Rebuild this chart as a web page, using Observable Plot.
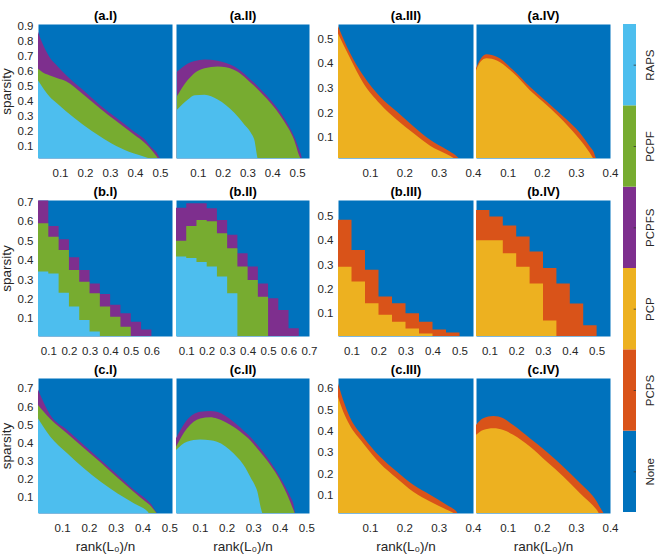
<!DOCTYPE html>
<html><head><meta charset="utf-8">
<script src="https://cdn.jsdelivr.net/npm/d3@7"></script>
<script src="https://cdn.jsdelivr.net/npm/@observablehq/plot@0.6"></script>
<style>
body{margin:0;background:#fff;}
#fig{position:relative;width:662px;height:558px;overflow:hidden;font-family:"Liberation Sans",Arial,Helvetica,sans-serif;}
#fig svg{position:absolute;}
</style></head><body><div id="fig"></div>
<script>
// ---------- colours / categories ----------
const legendCats = ["None","PCPS","PCP","PCPFS","PCPF","RAPS"]; // bottom -> top
const legendColors = ["#0072BD","#D95319","#EDB120","#7E2F8E","#77AC30","#4DBEEE"];
const C = Object.fromEntries(legendCats.map((c,i)=>[c,legendColors[i]]));

// ---------- row a ----------
const aI_x      = [0.01,0.03,0.057,0.09,0.124,0.191,0.258,0.325,0.393,0.446,0.46,0.487,0.5,0.55];
const aI_PCPFS  = [0.868,0.78,0.693,0.63,0.572,0.473,0.374,0.287,0.199,0.13,0.1,0.055,0.02,0];
const aI_PCPF   = [0.616,0.59,0.57,0.55,0.53,0.445,0.352,0.265,0.18,0.11,0.085,0.03,0,0];
const aI_RAPS   = [0.539,0.49,0.43,0.38,0.331,0.243,0.166,0.1,0.052,0.024,0.015,0,0,0];

const aII_x     = [0.0157,0.06,0.087,0.127,0.18,0.247,0.287,0.313,0.327,0.345,0.38,0.447,0.487,0.513,0.525,0.55];
const aII_PCPFS = [0.593,0.648,0.665,0.675,0.666,0.627,0.58,0.539,0.52,0.49,0.43,0.287,0.166,0.056,0,0];
const aII_PCPF  = [0.43,0.539,0.585,0.616,0.627,0.605,0.56,0.52,0.5,0.47,0.41,0.265,0.144,0.02,0,0];
const aII_RAPS  = [0.34,0.408,0.436,0.44,0.408,0.32,0.243,0.19,0.144,0,0,0,0,0,0,0];

const aIII_x    = [0.007,0.042,0.08,0.129,0.178,0.227,0.275,0.324,0.35,0.363,0.4];
const aIII_PCPS = [0.55,0.44,0.35,0.264,0.203,0.143,0.089,0.048,0.025,0.01,0];
const aIII_PCP  = [0.52,0.42,0.32,0.235,0.17,0.115,0.065,0.03,0.01,0,0];

const aIV_x     = [0.007,0.02,0.038,0.068,0.116,0.165,0.214,0.263,0.312,0.341,0.35,0.361,0.38,0.4];
const aIV_PCPS  = [0.379,0.415,0.435,0.425,0.372,0.304,0.244,0.183,0.116,0.062,0.045,0.01,0,0];
const aIV_PCP   = [0.37,0.405,0.419,0.41,0.36,0.29,0.23,0.165,0.089,0.035,0.015,0,0,0];

// ---------- row b (coarse grid: column left edges) ----------
const bI_x      = [0.05,0.1,0.15,0.2,0.25,0.3,0.35,0.4,0.45,0.5,0.55,0.6,0.65,0.7];
const bI_PCPFS  = [0.707,0.576,0.507,0.414,0.348,0.279,0.224,0.168,0.124,0.081,0.041,0,0,0];
const bI_PCPF   = [0.59,0.52,0.452,0.348,0.288,0.228,0.159,0.107,0.055,0,0,0,0,0];
const bI_RAPS   = [0.34,0.33,0.23,0.16,0.09,0.03,0,0,0,0,0,0,0,0];

const bII_x     = [0.05,0.1,0.15,0.2,0.25,0.3,0.35,0.4,0.45,0.5,0.55,0.6,0.65,0.7];
const bII_PCPFS = [0.67,0.693,0.693,0.667,0.607,0.53,0.435,0.366,0.279,0.202,0.141,0.047,0,0];
const bII_PCPF  = [0.5,0.576,0.606,0.6,0.538,0.461,0.366,0.297,0.21,0,0,0,0,0];
const bII_RAPS  = [0.418,0.41,0.39,0.366,0.314,0.228,0,0,0,0,0,0,0,0];

const bIII_x    = [0.05,0.1,0.15,0.2,0.25,0.3,0.35,0.4,0.45,0.5,0.55];
const bIII_PCPS = [0.484,0.36,0.278,0.168,0.141,0.1,0.065,0.033,0.02,0,0];
const bIII_PCP  = [0.291,0.23,0.141,0.093,0.065,0.037,0.016,0,0,0,0];

const bIV_x     = [0.05,0.1,0.15,0.2,0.25,0.3,0.35,0.4,0.45,0.5,0.55];
const bIV_PCPS  = [0.524,0.497,0.46,0.415,0.353,0.285,0.222,0.14,0.05,0,0];
const bIV_PCP   = [0.4,0.4,0.346,0.291,0.222,0.07,0,0,0,0,0];

// ---------- row c ----------
const cI_x      = [0.01,0.056,0.119,0.181,0.244,0.307,0.369,0.418,0.43,0.463,0.51];
const cI_PCPFS  = [0.694,0.552,0.469,0.386,0.303,0.22,0.137,0.08,0.063,0,0];
const cI_PCPF   = [0.607,0.53,0.45,0.37,0.29,0.205,0.125,0.065,0.05,0,0];
const cI_RAPS   = [0.533,0.432,0.34,0.257,0.183,0.118,0.063,0.02,0,0,0];

const cII_x     = [0.01,0.051,0.101,0.139,0.164,0.226,0.276,0.289,0.314,0.339,0.351,0.414,0.44,0.451,0.46,0.51];
const cII_PCPFS = [0.423,0.524,0.57,0.575,0.57,0.515,0.45,0.432,0.39,0.345,0.321,0.174,0.1,0.063,0,0];
const cII_PCPF  = [0.376,0.478,0.533,0.54,0.533,0.487,0.43,0.413,0.37,0.325,0.303,0.155,0.07,0.03,0,0];
const cII_RAPS  = [0.358,0.404,0.417,0.412,0.404,0.34,0.247,0.21,0.137,0,0,0,0,0,0,0];

const cIII_x    = [0.007,0.022,0.041,0.08,0.129,0.178,0.226,0.275,0.324,0.35,0.363,0.4];
const cIII_PCPS = [0.622,0.544,0.466,0.372,0.279,0.209,0.147,0.1,0.053,0.025,0,0];
const cIII_PCP  = [0.559,0.49,0.427,0.342,0.248,0.178,0.115,0.069,0.03,0.01,0,0];

const cIV_x     = [0.007,0.028,0.058,0.087,0.116,0.165,0.214,0.263,0.312,0.361,0.375,0.39,0.4];
const cIV_PCPS  = [0.427,0.458,0.469,0.458,0.427,0.365,0.302,0.232,0.155,0.069,0.03,0,0];
const cIV_PCP   = [0.381,0.404,0.412,0.404,0.381,0.326,0.256,0.186,0.108,0.03,0,0,0];

// ---------- ticks ----------
const ticks_a12_x = [0.1,0.2,0.3,0.4,0.5];
const ticks_a34_x = [0.1,0.2,0.3,0.4];
const ticks_b1_x  = [0.1,0.2,0.3,0.4,0.5,0.6];
const ticks_b2_x  = [0.1,0.2,0.3,0.4,0.5,0.6,0.7];
const ticks_b34_x = [0.1,0.2,0.3,0.4,0.5];
const ticks_c12_x = [0.1,0.2,0.3,0.4,0.5];
const ticks_c34_x = [0.1,0.2,0.3,0.4];
const ticks_a1_y = [0.1,0.2,0.3,0.4,0.5,0.6,0.7,0.8,0.9];
const ticks_a3_y = [0.1,0.2,0.3,0.4,0.5];
const ticks_b1_y = [0.1,0.2,0.3,0.4,0.5,0.6,0.7];
const ticks_b3_y = [0.1,0.2,0.3,0.4,0.5];
const ticks_c1_y = [0.1,0.2,0.3,0.4,0.5,0.6,0.7];
const ticks_c3_y = [0.1,0.2,0.3,0.4,0.5,0.6];

// ---------- layout ----------
const colL = [38,176,338,476], colW = [134,133,135,134];
const rowT = [24,200,378], rowH = [134,136,135];
const fig = document.getElementById("fig");
const FONT = "'Liberation Sans', Arial, sans-serif";

function layer(xs, ys, cat, curve){
  const data = xs.map((x,i)=>({x, y: ys[i]}));
  return Plot.area(data, {x1:"x", y1:0, y2:"y", fill: C[cat], curve, clip:true});
}

function panel(o){
  const ml=40, mr=6, mt=24, mb=44;
  const W = colW[o.col], H = rowH[o.row];
  const marks = [Plot.frame({fill: C.None, stroke: "none"})];
  o.layers.forEach(([xs,ys,cat])=>marks.push(layer(xs,ys,cat,o.step?"step-after":"monotone-x")));
  marks.push(Plot.text([o.title], {text:d=>d, frameAnchor:"top", dy:-9, lineAnchor:"middle", fontSize:13, fontWeight:"bold", fill:"#000"}));
  if (o.ylabel) marks.push(Plot.text(["sparsity"], {text:d=>d, frameAnchor:"left", dx:-32, rotate:-90, lineAnchor:"middle", textAnchor:"middle", fontSize:13.5, fill:"#262626"}));
  if (o.xlabel) marks.push(Plot.text(["rank(L₀)/n"], {text:d=>d, frameAnchor:"bottom", dy:33, lineAnchor:"middle", fontSize:13.5, fill:"#262626"}));
  const svg = Plot.plot({
    width: W+ml+mr, height: H+mt+mb,
    marginLeft: ml, marginRight: mr, marginTop: mt, marginBottom: mb,
    style: {background:"transparent", overflow:"visible", fontSize:"11.5px", color:"#262626", fontFamily:FONT},
    x: {domain: o.xd, ticks: o.xt, tickSize:0, tickPadding:10, tickFormat:".1f", label:null},
    y: {domain: o.yd, ticks: o.yt || [], tickSize:0, tickPadding:5, tickFormat:".1f", label:null, axis: o.yt ? "left" : null},
    marks
  });
  svg.style.left = (colL[o.col]-ml)+"px";
  svg.style.top = (rowT[o.row]-mt)+"px";
  fig.appendChild(svg);
}

// row a
panel({row:0,col:0,title:"(a.I)",  xd:[0.012,0.548], yd:[0.02,0.91], xt:ticks_a12_x, yt:ticks_a1_y, ylabel:true,
  layers:[[aI_x,aI_PCPFS,"PCPFS"],[aI_x,aI_PCPF,"PCPF"],[aI_x,aI_RAPS,"RAPS"]]});
panel({row:0,col:1,title:"(a.II)", xd:[0.012,0.548], yd:[0.02,0.91], xt:ticks_a12_x,
  layers:[[aII_x,aII_PCPFS,"PCPFS"],[aII_x,aII_PCPF,"PCPF"],[aII_x,aII_RAPS,"RAPS"]]});
panel({row:0,col:2,title:"(a.III)",xd:[0.007,0.4], yd:[0.015,0.558], xt:ticks_a34_x, yt:ticks_a3_y,
  layers:[[aIII_x,aIII_PCPS,"PCPS"],[aIII_x,aIII_PCP,"PCP"]]});
panel({row:0,col:3,title:"(a.IV)", xd:[0.007,0.4], yd:[0.015,0.558], xt:ticks_a34_x,
  layers:[[aIV_x,aIV_PCPS,"PCPS"],[aIV_x,aIV_PCP,"PCP"]]});
// row b
panel({row:1,col:0,title:"(b.I)",  xd:[0.05,0.7], yd:[0.007,0.71], xt:ticks_b1_x, yt:ticks_b1_y, ylabel:true, step:true,
  layers:[[bI_x,bI_PCPFS,"PCPFS"],[bI_x,bI_PCPF,"PCPF"],[bI_x,bI_RAPS,"RAPS"]]});
panel({row:1,col:1,title:"(b.II)", xd:[0.05,0.7], yd:[0.007,0.71], xt:ticks_b2_x, step:true,
  layers:[[bII_x,bII_PCPFS,"PCPFS"],[bII_x,bII_PCPF,"PCPF"],[bII_x,bII_RAPS,"RAPS"]]});
panel({row:1,col:2,title:"(b.III)",xd:[0.05,0.55], yd:[0.006,0.565], xt:ticks_b34_x, yt:ticks_b3_y, step:true,
  layers:[[bIII_x,bIII_PCPS,"PCPS"],[bIII_x,bIII_PCP,"PCP"]]});
panel({row:1,col:3,title:"(b.IV)", xd:[0.05,0.55], yd:[0.006,0.565], xt:ticks_b34_x, step:true,
  layers:[[bIV_x,bIV_PCPS,"PCPS"],[bIV_x,bIV_PCP,"PCP"]]});
// row c
panel({row:2,col:0,title:"(c.I)",  xd:[0.01,0.51], yd:[0.01,0.757], xt:ticks_c12_x, yt:ticks_c1_y, ylabel:true, xlabel:true,
  layers:[[cI_x,cI_PCPFS,"PCPFS"],[cI_x,cI_PCPF,"PCPF"],[cI_x,cI_RAPS,"RAPS"]]});
panel({row:2,col:1,title:"(c.II)", xd:[0.01,0.51], yd:[0.01,0.757], xt:ticks_c12_x, xlabel:true,
  layers:[[cII_x,cII_PCPFS,"PCPFS"],[cII_x,cII_PCPF,"PCPF"],[cII_x,cII_RAPS,"RAPS"]]});
panel({row:2,col:2,title:"(c.III)",xd:[0.007,0.4], yd:[0.015,0.647], xt:ticks_c34_x, yt:ticks_c3_y, xlabel:true,
  layers:[[cIII_x,cIII_PCPS,"PCPS"],[cIII_x,cIII_PCP,"PCP"]]});
panel({row:2,col:3,title:"(c.IV)", xd:[0.007,0.4], yd:[0.015,0.647], xt:ticks_c34_x, xlabel:true,
  layers:[[cIV_x,cIV_PCPS,"PCPS"],[cIV_x,cIV_PCP,"PCP"]]});

// ---------- colour bar ----------
(function(){
  const cb = legendCats.map((c,i)=>({c, i}));
  const ml=0, mr=30, w=13, t=24, h=488;
  const svg = Plot.plot({
    width: w+ml+mr, height: h, marginLeft: ml, marginRight: mr, marginTop:0, marginBottom:0,
    style:{background:"transparent", overflow:"visible", fontSize:"11.5px", color:"#262626", fontFamily:FONT},
    x:{domain:[0,1], axis:null}, y:{domain:[0,6], axis:null},
    color:{domain: legendCats, range: legendColors},
    marks:[
      Plot.rect(cb, {x1:0, x2:1, y1:d=>d.i, y2:d=>d.i+1, fill:"c"}),
      Plot.ruleY(cb, {y:d=>d.i+0.5, x1:0.82, x2:1, stroke:"#333", strokeWidth:0.8}),
      Plot.text(cb, {x:1, y:d=>d.i+0.5, text:"c", dx:14, rotate:-90, textAnchor:"middle", lineAnchor:"middle", fill:"#262626"})
    ]
  });
  svg.style.left = "623px"; svg.style.top = t+"px";
  fig.appendChild(svg);
})();
</script></body></html>
